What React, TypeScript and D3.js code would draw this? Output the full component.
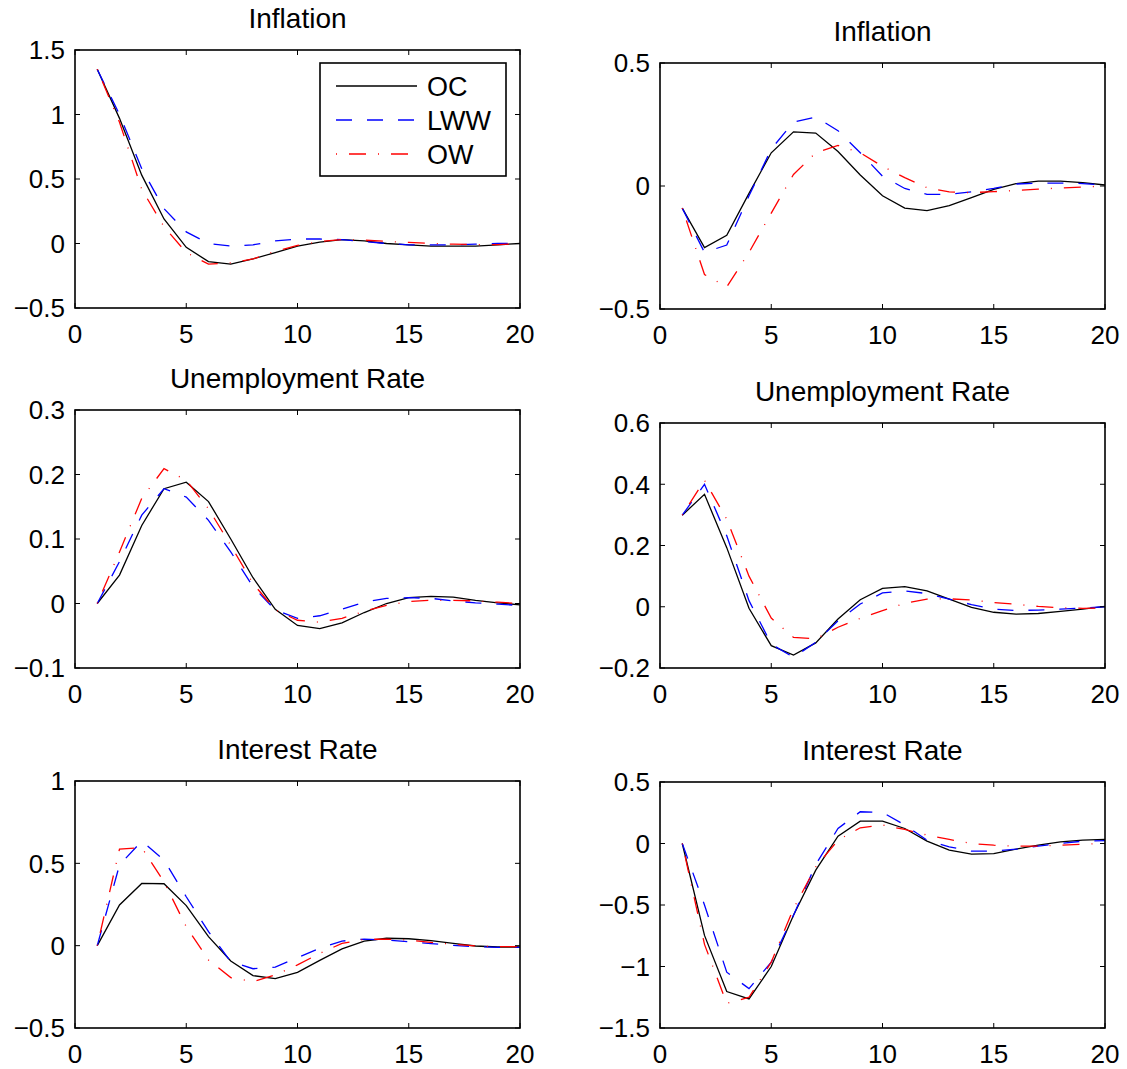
import React from "react";
import * as d3 from "d3";

// ---------- data ----------
const horizons = [1, 2, 3, 4, 5, 6, 7, 8, 9, 10, 11, 12, 13, 14, 15, 16, 17, 18, 19, 20];
const seriesNames = ["OC", "LWW", "OW"];

const inflA_OC = [1.35, 0.97, 0.53, 0.19, -0.03, -0.14, -0.16, -0.12, -0.07, -0.02, 0.01, 0.03, 0.02, 0.0, -0.01, -0.02, -0.02, -0.02, -0.01, 0.0];
const inflA_LWW = [1.35, 1.0, 0.58, 0.27, 0.09, 0.0, -0.02, -0.01, 0.02, 0.035, 0.035, 0.03, 0.015, 0.0, -0.01, -0.01, -0.01, -0.005, 0.0, 0.0];
const inflA_OW = [1.35, 0.94, 0.42, 0.13, -0.07, -0.16, -0.15, -0.12, -0.06, -0.015, 0.015, 0.03, 0.026, 0.016, 0.008, 0.0, -0.005, -0.008, -0.008, -0.003];

const inflB_OC = [-0.09, -0.25, -0.2, -0.03, 0.135, 0.22, 0.215, 0.14, 0.045, -0.04, -0.09, -0.1, -0.08, -0.047, -0.014, 0.01, 0.02, 0.02, 0.014, 0.004];
const inflB_LWW = [-0.09, -0.27, -0.24, -0.04, 0.15, 0.26, 0.28, 0.225, 0.135, 0.04, -0.01, -0.034, -0.034, -0.024, -0.01, 0.008, 0.012, 0.012, 0.01, 0.003];
const inflB_OW = [-0.09, -0.36, -0.41, -0.27, -0.11, 0.047, 0.135, 0.165, 0.135, 0.08, 0.034, -0.007, -0.024, -0.027, -0.023, -0.018, -0.013, -0.008, -0.004, 0.0];

const unempA_OC = [0, 0.044, 0.121, 0.178, 0.188, 0.158, 0.1, 0.04, -0.009, -0.034, -0.039, -0.03, -0.014, 0.0, 0.009, 0.011, 0.01, 0.005, 0.001, -0.002];
const unempA_LWW = [0, 0.065, 0.137, 0.178, 0.165, 0.129, 0.08, 0.026, -0.01, -0.023, -0.019, -0.009, 0.002, 0.008, 0.009, 0.008, 0.004, 0.001, -0.001, -0.003];
const unempA_OW = [0, 0.08, 0.163, 0.209, 0.191, 0.147, 0.09, 0.031, -0.01, -0.026, -0.029, -0.023, -0.012, -0.003, 0.003, 0.005, 0.005, 0.004, 0.002, 0.0];

const unempB_OC = [0.299, 0.367, 0.193, -0.005, -0.127, -0.158, -0.118, -0.04, 0.023, 0.06, 0.066, 0.052, 0.025, -0.002, -0.018, -0.024, -0.022, -0.015, -0.008, 0.001];
const unempB_LWW = [0.299, 0.4, 0.232, 0.02, -0.122, -0.165, -0.116, -0.046, 0.009, 0.045, 0.052, 0.043, 0.025, 0.007, -0.008, -0.012, -0.011, -0.008, -0.004, 0.0];
const unempB_OW = [0.299, 0.413, 0.286, 0.1, -0.037, -0.1, -0.105, -0.067, -0.038, -0.013, 0.011, 0.025, 0.026, 0.022, 0.014, 0.008, 0.001, -0.003, -0.005, -0.004];

const rateA_OC = [0, 0.247, 0.378, 0.376, 0.243, 0.055, -0.093, -0.182, -0.2, -0.162, -0.089, -0.02, 0.028, 0.045, 0.042, 0.03, 0.014, -0.002, -0.008, -0.008];
const rateA_LWW = [0, 0.49, 0.635, 0.52, 0.297, 0.085, -0.097, -0.14, -0.13, -0.073, -0.016, 0.028, 0.04, 0.034, 0.024, 0.012, 0.002, -0.006, -0.01, -0.01];
const rateA_OW = [0, 0.587, 0.595, 0.388, 0.115, -0.087, -0.194, -0.218, -0.178, -0.117, -0.047, 0.014, 0.038, 0.04, 0.034, 0.02, 0.008, -0.002, -0.006, -0.006];

const rateB_OC = [0, -0.747, -1.204, -1.264, -1.0, -0.584, -0.217, 0.06, 0.182, 0.182, 0.122, 0.019, -0.054, -0.087, -0.082, -0.046, -0.014, 0.014, 0.027, 0.033];
const rateB_LWW = [0, -0.5, -1.046, -1.18, -0.965, -0.584, -0.171, 0.122, 0.258, 0.253, 0.15, 0.027, -0.027, -0.062, -0.062, -0.046, -0.022, 0.0, 0.019, 0.024];
const rateB_OW = [0, -0.82, -1.3, -1.25, -0.965, -0.53, -0.19, 0.027, 0.128, 0.15, 0.114, 0.068, 0.033, 0.0, -0.014, -0.022, -0.022, -0.014, -0.005, 0.0];

const titles = ["Inflation", "Inflation", "Unemployment Rate", "Unemployment Rate", "Interest Rate", "Interest Rate"];
const xTicks = [0, 5, 10, 15, 20];
const yTicksInflA = [-0.5, 0, 0.5, 1, 1.5];
const yTicksInflB = [-0.5, 0, 0.5];
const yTicksUnempA = [-0.1, 0, 0.1, 0.2, 0.3];
const yTicksUnempB = [-0.2, 0, 0.2, 0.4, 0.6];
const yTicksRateA = [-0.5, 0, 0.5, 1];
const yTicksRateB = [-1.5, -1, -0.5, 0, 0.5];

// ---------- layout / style ----------
const W = 1127;
const H = 1069;
const FONT = "'Liberation Sans', Arial, Helvetica, sans-serif";
const TICK_FS = 26;
const TITLE_FS = 28;
const LEGEND_FS = 27;

const colors = ["#000000", "#0000ff", "#ff0000"];
const dashes = ["none", "16,15", "1,12,17,12"];

const panelsSpec = [
  { title: titles[0], box: [75, 50, 520, 308], ticks: yTicksInflA, series: [inflA_OC, inflA_LWW, inflA_OW], legend: true },
  { title: titles[1], box: [660, 63, 1105, 309], ticks: yTicksInflB, series: [inflB_OC, inflB_LWW, inflB_OW] },
  { title: titles[2], box: [75, 410, 520, 668], ticks: yTicksUnempA, series: [unempA_OC, unempA_LWW, unempA_OW] },
  { title: titles[3], box: [660, 423, 1105, 668], ticks: yTicksUnempB, series: [unempB_OC, unempB_LWW, unempB_OW] },
  { title: titles[4], box: [75, 781, 520, 1028], ticks: yTicksRateA, series: [rateA_OC, rateA_LWW, rateA_OW] },
  { title: titles[5], box: [660, 782, 1105, 1028], ticks: yTicksRateB, series: [rateB_OC, rateB_LWW, rateB_OW] },
];

const fmt = (v: number) => {
  const s = d3.format("")(Math.round(v * 1000) / 1000);
  return s.replace("-", "\u2212");
};

function Panel({ spec }: { spec: any }) {
  const [x0, y0, x1, y1] = spec.box;
  const ticks: number[] = spec.ticks;
  const x = d3.scaleLinear().domain([0, 20]).range([x0, x1]);
  const y = d3.scaleLinear().domain([ticks[0], ticks[ticks.length - 1]]).range([y1, y0]);
  const line = d3
    .line<number>()
    .x((_, i) => x(horizons[i]))
    .y((d) => y(d));
  const tl = 5;
  return (
    <g>
      <text x={(x0 + x1) / 2} y={y0 - 22} textAnchor="middle" fontSize={TITLE_FS} fontFamily={FONT}>
        {spec.title}
      </text>
      {spec.series.map((s: number[], k: number) => (
        <path
          key={k}
          d={line(s) || ""}
          fill="none"
          stroke={colors[k]}
          strokeWidth={1.3}
          strokeDasharray={dashes[k]}
        />
      ))}
      {xTicks.map((t) => (
        <g key={"x" + t}>
          <line x1={x(t)} x2={x(t)} y1={y1} y2={y1 - tl} stroke="#000" strokeWidth={1} />
          <line x1={x(t)} x2={x(t)} y1={y0} y2={y0 + tl} stroke="#000" strokeWidth={1} />
          <text x={x(t)} y={y1 + 35} textAnchor="middle" fontSize={TICK_FS} fontFamily={FONT}>
            {fmt(t)}
          </text>
        </g>
      ))}
      {ticks.map((t) => (
        <g key={"y" + t}>
          <line x1={x0} x2={x0 + tl} y1={y(t)} y2={y(t)} stroke="#000" strokeWidth={1} />
          <line x1={x1} x2={x1 - tl} y1={y(t)} y2={y(t)} stroke="#000" strokeWidth={1} />
          <text x={x0 - 10} y={y(t)} dy="0.36em" textAnchor="end" fontSize={TICK_FS} fontFamily={FONT}>
            {fmt(t)}
          </text>
        </g>
      ))}
      <rect x={x0} y={y0} width={x1 - x0} height={y1 - y0} fill="none" stroke="#000" strokeWidth={1.6} />
      {spec.legend && (
        <g>
          <rect x={320} y={63} width={186} height={113} fill="#fff" stroke="#000" strokeWidth={1.6} />
          {seriesNames.map((n, k) => (
            <g key={n}>
              <line
                x1={336}
                x2={417}
                y1={86 + k * 34}
                y2={86 + k * 34}
                stroke={colors[k]}
                strokeWidth={1.3}
                strokeDasharray={dashes[k]}
              />
              <text x={427} y={86 + k * 34} dy="0.36em" fontSize={LEGEND_FS} fontFamily={FONT}>
                {n}
              </text>
            </g>
          ))}
        </g>
      )}
    </g>
  );
}

export default function App() {
  return (
    <svg
      width={W}
      height={H}
      viewBox={`0 0 ${W} ${H}`}
      style={{ position: "absolute", left: 0, top: 0, background: "#fff" }}
    >
      <rect x={0} y={0} width={W} height={H} fill="#fff" />
      {panelsSpec.map((p, i) => (
        <Panel key={i} spec={p} />
      ))}
    </svg>
  );
}
